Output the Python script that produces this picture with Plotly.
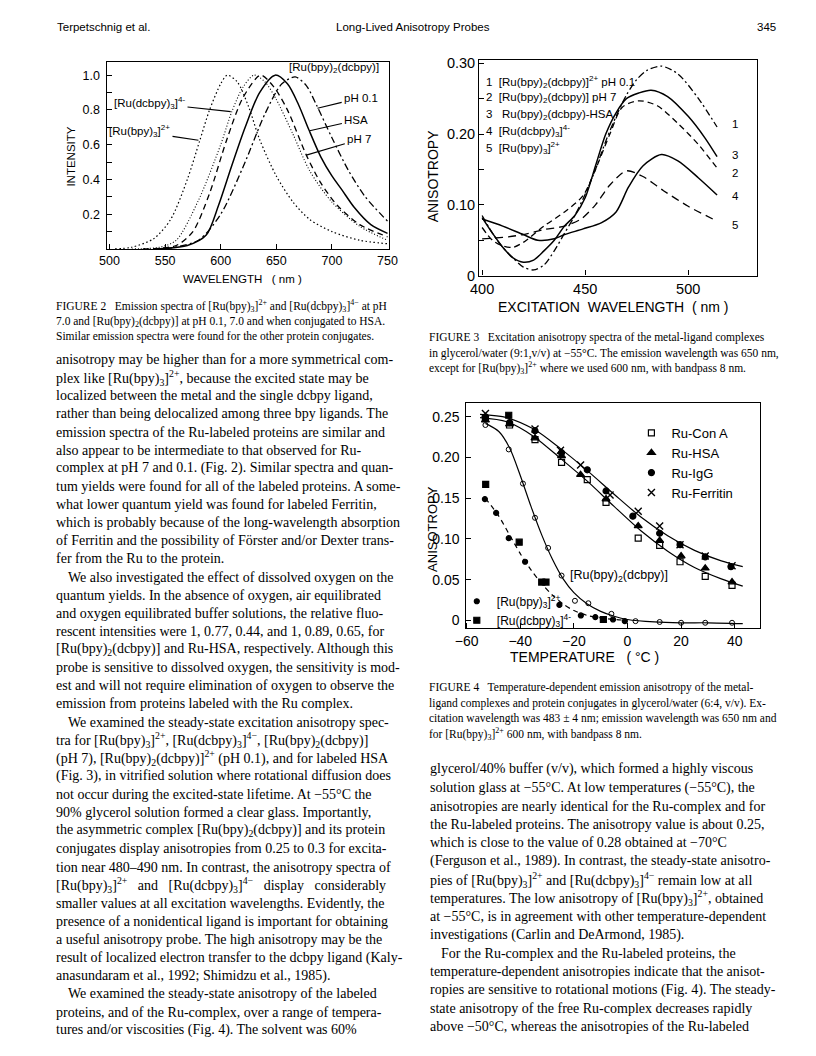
import plotly.graph_objects as go

W, H = 816, 1056
SANS = "Liberation Sans"
SERIF = "Liberation Serif"

# ---------------- Figure 2 data (emission spectra) ----------------
wl_bpy3 = [505, 520, 540, 555, 570, 581, 590, 600, 606, 615, 625, 635, 650, 665, 680, 700, 725, 750]
int_bpy3 = [0.0, 0.01, 0.06, 0.17, 0.40, 0.62, 0.80, 0.95, 1.0, 0.96, 0.82, 0.63, 0.42, 0.27, 0.17, 0.10, 0.05, 0.03]
wl_dcbpy3 = [520, 545, 560, 580, 600, 610, 620, 630, 640, 650, 665, 680, 700, 725, 750]
int_dcbpy3 = [0.0, 0.01, 0.05, 0.28, 0.60, 0.79, 0.93, 1.0, 0.96, 0.86, 0.66, 0.45, 0.27, 0.13, 0.05]
wl_ph7 = [530, 560, 575, 590, 605, 620, 636, 648, 660, 677, 690, 705, 725, 750]
int_ph7 = [0.0, 0.02, 0.10, 0.32, 0.62, 0.87, 1.0, 0.93, 0.80, 0.54, 0.38, 0.25, 0.14, 0.07]
wl_hsa = [540, 570, 587, 598, 610, 622, 635, 649, 660, 670, 679, 690, 700, 709, 720, 735, 750]
int_hsa = [0.0, 0.02, 0.08, 0.25, 0.48, 0.70, 0.90, 1.0, 0.95, 0.83, 0.69, 0.53, 0.42, 0.34, 0.24, 0.14, 0.09]
wl_ph01 = [550, 580, 600, 620, 640, 655, 667, 677, 686, 700, 715, 730, 750]
int_ph01 = [0.0, 0.05, 0.20, 0.47, 0.78, 0.95, 0.99, 0.94, 0.83, 0.64, 0.45, 0.30, 0.16]

# ---------------- Figure 3 data (excitation anisotropy) ----------------
ex_1 = [400, 405, 410, 415, 420, 425, 430, 435, 440, 445, 450, 455, 460, 465, 470, 475, 480, 487, 495, 505, 514]
r_1 = [0.085, 0.06, 0.04, 0.025, 0.012, 0.008, 0.015, 0.035, 0.06, 0.085, 0.115, 0.15, 0.19, 0.225, 0.255, 0.277, 0.29, 0.296, 0.285, 0.25, 0.21]
ex_2 = [400, 405, 410, 415, 420, 430, 440, 449, 455, 462, 468, 476, 485, 495, 505, 514]
r_2 = [0.068, 0.05, 0.042, 0.04, 0.047, 0.07, 0.09, 0.113, 0.15, 0.2, 0.238, 0.247, 0.24, 0.215, 0.185, 0.152]
ex_3 = [400, 405, 410, 415, 420, 425, 430, 435, 440, 445, 450, 455, 460, 465, 470, 476, 482, 490, 500, 508, 514]
r_3 = [0.082, 0.06, 0.04, 0.025, 0.019, 0.022, 0.035, 0.05, 0.07, 0.085, 0.11, 0.155, 0.2, 0.23, 0.25, 0.258, 0.262, 0.253, 0.225, 0.195, 0.168]
ex_4 = [400, 410, 420, 427, 435, 440, 449, 458, 465, 471, 478, 487, 495, 505, 514]
r_4 = [0.08, 0.07, 0.058, 0.05, 0.052, 0.058, 0.066, 0.075, 0.09, 0.125, 0.155, 0.171, 0.162, 0.138, 0.114]
ex_5 = [400, 410, 420, 430, 440, 448, 455, 462, 470, 478, 488, 500, 514]
r_5 = [0.052, 0.054, 0.058, 0.065, 0.07, 0.08, 0.10, 0.128, 0.148, 0.14, 0.12, 0.098, 0.077]

# ---------------- Figure 4 data (temperature dependence) ----------------
T_cona = [-53, -44, -34.5, -24.6, -15, -8, 4, 12, 19.6, 29, 39]
r_cona = [0.248, 0.240, 0.222, 0.194, 0.173, 0.145, 0.101, 0.092, 0.072, 0.054, 0.043]
T_hsa = [-53, -44, -34.5, -24.6, -17.5, -8, 4, 12, 20, 29, 39]
r_hsa = [0.246, 0.241, 0.224, 0.202, 0.179, 0.149, 0.116, 0.098, 0.079, 0.064, 0.047]
T_igg = [-53, -44, -34.5, -24.6, -15, -8, 2, 12, 19.6, 29, 38.6]
r_igg = [0.250, 0.243, 0.233, 0.206, 0.185, 0.159, 0.128, 0.107, 0.093, 0.078, 0.066]
T_fer = [-53, -34.5, -25, -17.5, -6.5, 4, 12, 19.6, 29, 39]
r_fer = [0.254, 0.235, 0.209, 0.191, 0.154, 0.134, 0.116, 0.093, 0.079, 0.067]
T_fitU = [-55, -45, -35, -25, -15, -5, 5, 15, 25, 35, 43]
r_fitU = [0.253, 0.249, 0.235, 0.211, 0.184, 0.155, 0.127, 0.104, 0.086, 0.073, 0.066]
T_fitL = [-55, -45, -35, -25, -15, -5, 5, 15, 25, 35, 43]
r_fitL = [0.249, 0.244, 0.226, 0.199, 0.171, 0.140, 0.110, 0.085, 0.065, 0.051, 0.042]
T_cplx = [-53, -44.3, -39, -34.5, -29.6, -24.6, -19.6, -14.6, -6, 3, 12, 20, 29, 39]
r_cplx = [0.240, 0.210, 0.168, 0.126, 0.089, 0.055, 0.024, 0.021, 0.008, -0.001, -0.002, -0.003, -0.003, -0.003]
T_cplx_fit = [-53, -48, -44, -40, -36, -32, -28, -24, -20, -15, -10, -5, 0, 10, 20, 30, 43]
r_cplx_fit = [0.242, 0.232, 0.212, 0.178, 0.14, 0.105, 0.075, 0.051, 0.034, 0.02, 0.011, 0.005, 0.001, -0.002, -0.003, -0.003, -0.004]
T_bpy3 = [-53.2, -49, -44.3, -38.2, -31.8, -25.4, -17.4, -12, -5.4, -1]
r_bpy3 = [0.149, 0.132, 0.101, 0.072, 0.047, 0.019, 0.006, 0.004, 0.001, -0.001]
T_bpy3_fit = [-53, -48, -44, -40, -36, -32, -28, -24, -20, -15, -10, -5, 0]
r_bpy3_fit = [0.15, 0.128, 0.105, 0.082, 0.062, 0.045, 0.031, 0.02, 0.012, 0.006, 0.003, 0.001, 0.0]
T_dcbpy3 = [-52.9, -44.3, -40.4, -32, -30.4, -9]
r_dcbpy3 = [0.167, 0.252, 0.096, 0.047, 0.047, 0.001]

# ---------------- Page text ----------------
header_left = "Terpetschnig et al."
header_mid = "Long-Lived Anisotropy Probes"
header_right = "345"

cap2 = ["FIGURE 2   Emission spectra of [Ru(bpy)<sub>3</sub>]<sup>2+</sup> and [Ru(dcbpy)<sub>3</sub>]<sup>4−</sup> at pH",
        "7.0 and [Ru(bpy)<sub>2</sub>(dcbpy)] at pH 0.1, 7.0 and when conjugated to HSA.",
        "Similar emission spectra were found for the other protein conjugates."]
cap3 = ["FIGURE 3   Excitation anisotropy spectra of the metal-ligand complexes",
        "in glycerol/water (9:1,v/v) at −55°C. The emission wavelength was 650 nm,",
        "except for [Ru(bpy)<sub>3</sub>]<sup>2+</sup> where we used 600 nm, with bandpass 8 nm."]
cap4 = ["FIGURE 4   Temperature-dependent emission anisotropy of the metal-",
        "ligand complexes and protein conjugates in glycerol/water (6:4, v/v). Ex-",
        "citation wavelength was 483 ± 4 nm; emission wavelength was 650 nm and",
        "for [Ru(bpy)<sub>3</sub>]<sup>2+</sup> 600 nm, with bandpass 8 nm."]

left_col = [
    "anisotropy may be higher than for a more symmetrical com-",
    "plex like [Ru(bpy)<sub>3</sub>]<sup>2+</sup>, because the excited state may be",
    "localized between the metal and the single dcbpy ligand,",
    "rather than being delocalized among three bpy ligands. The",
    "emission spectra of the Ru-labeled proteins are similar and",
    "also appear to be intermediate to that observed for Ru-",
    "complex at pH 7 and 0.1. (Fig. 2). Similar spectra and quan-",
    "tum yields were found for all of the labeled proteins. A some-",
    "what lower quantum yield was found for labeled Ferritin,",
    "which is probably because of the long-wavelength absorption",
    "of Ferritin and the possibility of Förster and/or Dexter trans-",
    "fer from the Ru to the protein.",
    "We also investigated the effect of dissolved oxygen on the",
    "quantum yields. In the absence of oxygen, air equilibrated",
    "and oxygen equilibrated buffer solutions, the relative fluo-",
    "rescent intensities were 1, 0.77, 0.44, and 1, 0.89, 0.65, for",
    "[Ru(bpy)<sub>2</sub>(dcbpy)] and Ru-HSA, respectively. Although this",
    "probe is sensitive to dissolved oxygen, the sensitivity is mod-",
    "est and will not require elimination of oxygen to observe the",
    "emission from proteins labeled with the Ru complex.",
    "We examined the steady-state excitation anisotropy spec-",
    "tra for [Ru(bpy)<sub>3</sub>]<sup>2+</sup>, [Ru(dcbpy)<sub>3</sub>]<sup>4−</sup>, [Ru(bpy)<sub>2</sub>(dcbpy)]",
    "(pH 7), [Ru(bpy)<sub>2</sub>(dcbpy)]<sup>2+</sup> (pH 0.1), and for labeled HSA",
    "(Fig. 3), in vitrified solution where rotational diffusion does",
    "not occur during the excited-state lifetime. At −55°C the",
    "90% glycerol solution formed a clear glass. Importantly,",
    "the asymmetric complex [Ru(bpy)<sub>2</sub>(dcbpy)] and its protein",
    "conjugates display anisotropies from 0.25 to 0.3 for excita-",
    "tion near 480–490 nm. In contrast, the anisotropy spectra of",
    "[Ru(bpy)<sub>3</sub>]<sup>2+</sup>   and   [Ru(dcbpy)<sub>3</sub>]<sup>4−</sup>   display   considerably",
    "smaller values at all excitation wavelengths. Evidently, the",
    "presence of a nonidentical ligand is important for obtaining",
    "a useful anisotropy probe. The high anisotropy may be the",
    "result of localized electron transfer to the dcbpy ligand (Kaly-",
    "anasundaram et al., 1992; Shimidzu et al., 1985).",
    "We examined the steady-state anisotropy of the labeled",
    "proteins, and of the Ru-complex, over a range of tempera-",
    "tures and/or viscosities (Fig. 4). The solvent was 60%",
]
left_indent = [12, 20, 35]

right_col = [
    "glycerol/40% buffer (v/v), which formed a highly viscous",
    "solution glass at −55°C. At low temperatures (−55°C), the",
    "anisotropies are nearly identical for the Ru-complex and for",
    "the Ru-labeled proteins. The anisotropy value is about 0.25,",
    "which is close to the value of 0.28 obtained at −70°C",
    "(Ferguson et al., 1989). In contrast, the steady-state anisotro-",
    "pies of [Ru(bpy)<sub>3</sub>]<sup>2+</sup> and [Ru(dcbpy)<sub>3</sub>]<sup>4−</sup> remain low at all",
    "temperatures. The low anisotropy of [Ru(bpy)<sub>3</sub>]<sup>2+</sup>, obtained",
    "at −55°C, is in agreement with other temperature-dependent",
    "investigations (Carlin and DeArmond, 1985).",
    "For the Ru-complex and the Ru-labeled proteins, the",
    "temperature-dependent anisotropies indicate that the anisot-",
    "ropies are sensitive to rotational motions (Fig. 4). The steady-",
    "state anisotropy of the free Ru-complex decreases rapidly",
    "above −50°C, whereas the anisotropies of the Ru-labeled",
]
right_indent = [10]

fig3_legend = ["1  [Ru(bpy)<sub>2</sub>(dcbpy)]<sup>2+</sup> pH 0.1",
               "2  [Ru(bpy)<sub>2</sub>(dcbpy)] pH 7",
               "3   Ru(bpy)<sub>2</sub>(dcbpy)-HSA",
               "4  [Ru(dcbpy)<sub>3</sub>]<sup>4-</sup>",
               "5  [Ru(bpy)<sub>3</sub>]<sup>2+</sup>"]
fig3_end_labels = ["1", "3", "2", "4", "5"]

# ---------------- Build figure ----------------
fig = go.Figure()
BLK = "black"

def line(x, y, dash="solid", xa="x", ya="y", width=1.3):
    return go.Scatter(x=x, y=y, mode="lines", xaxis=xa, yaxis=ya, showlegend=False,
                      line=dict(color=BLK, width=width, dash=dash, shape="spline", smoothing=0.8),
                      hoverinfo="skip")

# Fig 2
fig.add_trace(line(wl_bpy3, int_bpy3, "1.5px,2.5px", width=1.2))
fig.add_trace(line(wl_dcbpy3, int_dcbpy3, "1px,2px", width=1.1))
fig.add_trace(line(wl_ph7, int_ph7, "6px,4px"))
fig.add_trace(line(wl_hsa, int_hsa, "solid", width=1.5))
fig.add_trace(line(wl_ph01, int_ph01, "7px,3px,2px,3px"))

# Fig 3
fig.add_trace(line(ex_1, r_1, "7px,3px,2px,3px", "x2", "y2"))
fig.add_trace(line(ex_2, r_2, "6px,4px", "x2", "y2"))
fig.add_trace(line(ex_3, r_3, "solid", "x2", "y2", 1.5))
fig.add_trace(line(ex_4, r_4, "solid", "x2", "y2", 1.5))
fig.add_trace(line(ex_5, r_5, "8px,5px", "x2", "y2"))

# Fig 4 lines
fig.add_trace(line(T_fitU, r_fitU, "solid", "x3", "y3", 1.2))
fig.add_trace(line(T_fitL, r_fitL, "solid", "x3", "y3", 1.2))
fig.add_trace(line(T_cplx_fit, r_cplx_fit, "solid", "x3", "y3", 1.2))
fig.add_trace(line(T_bpy3_fit, r_bpy3_fit, "5px,4px", "x3", "y3", 1.2))

def pts(x, y, name, symbol, size, legend=None, lw=1.2):
    return go.Scatter(x=x, y=y, mode="markers", xaxis="x3", yaxis="y3", name=name,
                      showlegend=legend is not None, legend=legend or "legend",
                      marker=dict(symbol=symbol, size=size, color=BLK,
                                  line=dict(color=BLK, width=lw)),
                      hoverinfo="skip")

fig.add_trace(pts(T_cona, r_cona, "Ru-Con A", "square-open", 6, "legend"))
fig.add_trace(pts(T_hsa, r_hsa, "Ru-HSA", "triangle-up", 7, "legend"))
fig.add_trace(pts(T_igg, r_igg, "Ru-IgG", "circle", 6, "legend"))
fig.add_trace(pts(T_fer, r_fer, "Ru-Ferritin", "x-thin", 7, "legend", 1.4))
fig.add_trace(pts(T_cplx, r_cplx, "[Ru(bpy)2(dcbpy)]", "circle-open", 5, None, 1.0))
fig.add_trace(pts(T_bpy3, r_bpy3, "[Ru(bpy)<sub>3</sub>]<sup>2+</sup>", "circle", 5, "legend2"))
fig.add_trace(pts(T_dcbpy3, r_dcbpy3, "[Ru(dcbpy)<sub>3</sub>]<sup>4-</sup>", "square", 6, "legend2"))

def ax(domain, rng, tickvals, ticktext, size, anchor, standoff=0):
    return dict(domain=domain, range=rng, tickvals=tickvals, ticktext=ticktext,
                showline=True, linecolor=BLK, linewidth=1.4, mirror=True,
                ticks="inside", ticklen=5, tickcolor=BLK, tickwidth=1.2,
                showgrid=False, zeroline=False, anchor=anchor, ticklabelstandoff=standoff,
                tickfont=dict(family=SANS, size=size, color=BLK))

# page-pixel placement of the three plot boxes (left, right, top, bottom)
F2 = (98, 387, 58, 247)
F3 = (480, 765, 56, 274)
F4 = (466, 768, 403, 631)

def dx(b):
    return [b[0]/W, b[1]/W]

def dy(b):
    return [1-b[3]/H, 1-b[2]/H]

fig.update_layout(
    width=W, height=H, margin=dict(l=0, r=0, t=0, b=0),
    paper_bgcolor="white", plot_bgcolor="white",
    xaxis=ax(dx(F2), [497.4, 750.9], [500, 550, 600, 650, 700, 750],
             ["500", "550", "600", "650", "700", "750"], 12.5, "y"),
    yaxis=ax(dy(F2), [0, 1.074], [0.1*i for i in range(1, 11)],
             ["", "0.2", "", "0.4", "", "0.6", "", "0.8", "", "1.0"], 12.5, "x", 3),
    xaxis2=ax(dx(F3), [398.6, 533.5], [400, 450, 500], ["400", "450", "500"], 14.5, "y2"),
    yaxis2=ax(dy(F3), [0, 0.3042], [0, 0.05, 0.10, 0.15, 0.20, 0.25, 0.30],
              ["0", "", "0.10", "", "0.20", "", "0.30"], 14.5, "x2"),
    xaxis3=ax(dx(F4), [-60.4, 49.5], [-60, -40, -20, 0, 20, 40],
              ["−60", "−40", "−20", "0", "20", "40"], 14, "y3"),
    yaxis3=ax(dy(F4), [-0.0097, 0.267], [0, 0.05, 0.10, 0.15, 0.20, 0.25],
              ["0", "0.05", "0.10", "0.15", "0.20", "0.25"], 14, "x3", 2),
    legend=dict(x=636/W, y=1-418/H, xanchor="left", yanchor="top",
                font=dict(family=SANS, size=13, color=BLK), bgcolor="rgba(0,0,0,0)",
                tracegroupgap=1, itemsizing="trace"),
    legend2=dict(x=457/W, y=1-589/H, xanchor="left", yanchor="top",
                 font=dict(family=SANS, size=12, color=BLK), bgcolor="rgba(0,0,0,0)",
                 tracegroupgap=0, itemsizing="trace"),
)

ann = []

def A(text, x, y, size=11, family=SANS, xanchor="left", angle=0):
    ann.append(dict(text=text, x=x/W, y=1-y/H, xref="paper", yref="paper",
                    xanchor=xanchor, yanchor="middle", showarrow=False, textangle=angle,
                    font=dict(size=size, family=family, color=BLK)))

def lead(text, tx, ty, px, py, size=11.5):
    ann.append(dict(text=text, x=px, y=py, xref="x", yref="y", ax=tx, ay=ty,
                    axref="x", ayref="y", showarrow=True, arrowhead=0, arrowwidth=1.1,
                    arrowcolor=BLK, standoff=0, startstandoff=1,
                    font=dict(size=size, family=SANS, color=BLK)))

# header
A(header_left, 45, 22, 11.5)
A(header_mid, 412, 22, 11.5, xanchor="center")
A(header_right, 786, 22, 11.5, xanchor="right")

# fig 2 texts
A("INTENSITY", 62, 153, 11.5, xanchor="center", angle=-90)
A("WAVELENGTH   ( nm )", 237, 277, 11.5, xanchor="center")
A("[Ru(bpy)<sub>2</sub>(dcbpy)]", 331, 64, 11.5, xanchor="center")
lead("pH 0.1", 726.3, 0.87, 687, 0.81)
lead("HSA", 722.0, 0.74, 680, 0.68)
lead("pH 7", 724.6, 0.63, 677, 0.54)
lead("[Ru(dcbpy)<sub>3</sub>]<sup>4-</sup>", 536, 0.841, 609, 0.79)
lead("[Ru(bpy)<sub>3</sub>]<sup>2+</sup>", 527, 0.677, 580, 0.625)

# fig 3 texts
A("ANISOTROPY", 432, 173, 14, xanchor="center", angle=-90)
A("EXCITATION  WAVELENGTH  ( nm )", 618, 306, 14, xanchor="center")
for i, t in enumerate(fig3_legend):
    A(t, 485, 78 + i*16.6, 11.5)
for t, yy in zip(fig3_end_labels, [120, 152, 170, 193, 223]):
    A(t, 737, yy, 11.5)

# fig 4 texts
A("ANISOTROPY", 432, 530, 13, xanchor="center", angle=-90)
A("TEMPERATURE   ( °C )", 588, 660, 14, xanchor="center")
A("[Ru(bpy)<sub>2</sub>(dcbpy)]", 623, 578, 12.5, xanchor="center")

# captions
for i, t in enumerate(cap2):
    A(t, 44, 305 + i*15.5, 11.5, SERIF)
for i, t in enumerate(cap3):
    A(t, 426, 337 + i*15.5, 11.5, SERIF)
for i, t in enumerate(cap4):
    A(t, 426, 691 + i*15.8, 11.5, SERIF)

# body columns
lstep = 18.35
for i, t in enumerate(left_col):
    A(t, 44 + (12 if i in left_indent else 0), 359 + i*lstep, 14.0, SERIF)
rstep = 18.6
for i, t in enumerate(right_col):
    A(t, 427 + (12 if i in right_indent else 0), 774 + i*rstep, 14.0, SERIF)

fig.update_layout(annotations=ann)
fig.write_html("out.html", config={"displayModeBar": False},
               post_script="document.body.style.margin='0px';")
